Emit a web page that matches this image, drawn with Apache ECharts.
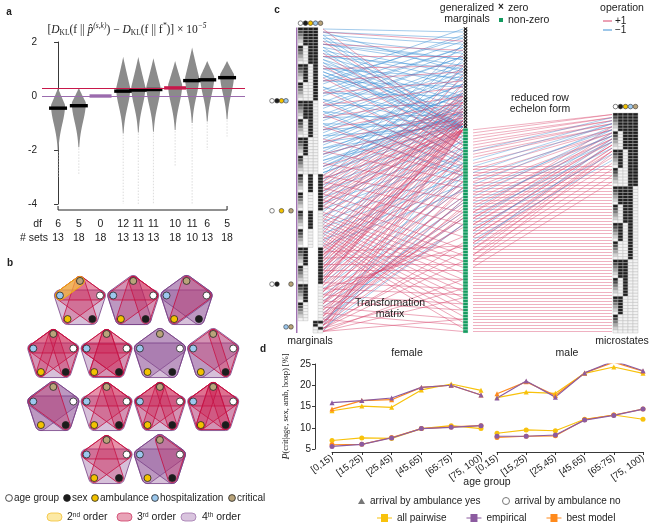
<!DOCTYPE html>
<html>
<head>
<meta charset="utf-8">
<script src="https://cdn.jsdelivr.net/npm/echarts@6/dist/echarts.min.js"></script>
<style>html,body{margin:0;padding:0;background:#fff}#main{width:651px;height:524px}</style>
</head>
<body>
<div id="main"></div>
<script>
var FONT = 'Liberation Sans, Arial, sans-serif';
var SERIF = 'Liberation Serif, DejaVu Serif, serif';

// ---------- a : KL difference per model ----------
var dfLabels = [6, 5, 0, 12, 11, 11, 10, 11, 6, 5];
var setLabels = [13, 18, 18, 13, 13, 13, 18, 10, 13, 18];
var klMedian = [-0.45, -0.36, 0, 0.18, 0.22, 0.24, 0.30, 0.57, 0.60, 0.68];
var klTop = [0.3, 0.3, 0, 1.45, 1.45, 1.4, 1.3, 1.8, 1.3, 1.3];
var klBottom = [-3.0, -2.9, 0, -4, -4, -4, -2.6, -4, -2.0, -1.5];
var klBest = 0.30, klEmpirical = 0;
var violinX = [0, 1.1, 2.25, 3.45, 4.25, 5.05, 6.2, 7.1, 7.9, 8.95]; // layout slots

// ---------- b : hypergraphs (C crit, A age, S sex, M ambulance, H hosp) ----------
var models = [
  { o4: ['ASMH'], o3: ['CAM', 'CSH', 'CAH'], o2: ['CH'] },
  { o4: ['ASMH', 'CSMH'], o3: ['CAM', 'CAS', 'CAH'], o2: [] },
  { o4: ['ASMH', 'CAMH', 'CASH'], o3: ['CAM'], o2: [] },
  { o4: ['ASMH'], o3: ['CAM', 'CSH', 'CAS', 'CMH', 'CAH'], o2: [] },
  { o4: ['ASMH'], o3: ['CAM', 'CSH', 'CAH', 'CSM', 'ASH'], o2: [] },
  { o4: ['CAMH', 'CASH', 'ASMH'], o3: [], o2: [] },
  { o4: ['ASMH', 'CAMH'], o3: ['CAS', 'CSH'], o2: [] },
  { o4: ['CAMH', 'CASH', 'ASMH'], o3: ['CSH'], o2: [] },
  { o4: ['ASMH'], o3: ['CAM', 'CSH', 'CAH', 'CAS'], o2: [] },
  { o4: ['ASMH'], o3: ['CAM', 'CSH', 'CAH', 'CAS', 'CMH'], o2: [] },
  { o4: ['ASMH'], o3: ['CAM', 'CSH', 'CAH', 'CAS', 'CMH', 'CSM'], o2: [] },
  { o4: ['ASMH'], o3: ['CAM', 'CSH', 'CAH'], o2: [] },
  { o4: ['CAMH', 'ASMH', 'CASH'], o3: ['CAS'], o2: [] }
];
var rowCounts = [3, 4, 4, 2];

// ---------- c : marginals -> generalized marginals -> microstates ----------
var ageLevels = [0, 1, 2, 3, 4, 5];
var yesNo = [1, 0];
var marginalBlocks = [
  ['hosp', 'amb', 'sex', 'age'],
  ['crit', 'amb', 'age'],
  ['crit', 'sex', 'age'],
  ['hosp', 'crit']
];
var microBlocks = [{ crit: 1, hosp: 1 }, { crit: 0, hosp: 1 }, { crit: 0, hosp: 0 }];
var zeroRows = 33, genRows = 100;
var leftLinks = [
  { sign: -1, from: [0, 1, 2, 3, 4, 5, 6, 7, 8, 9, 10, 11, 12, 13, 14, 15], to: [1, 3, 5, 8, 10, 12, 15, 17, 19, 22, 24, 26, 28, 29, 31, 32] },
  { sign: -1, from: [16, 18, 20, 22, 24, 26, 28, 30, 32, 34, 36, 38, 40, 42, 44, 46], to: [0, 2, 4, 6, 7, 9, 11, 13, 14, 16, 18, 20, 21, 23, 25, 27] },
  { sign: -1, from: [17, 21, 25, 29, 33, 37, 41, 45, 47, 43, 39, 35], to: [3, 6, 9, 12, 15, 18, 21, 24, 30, 28, 26, 22] },
  { sign: -1, from: [5, 9, 13, 17, 21, 25, 29, 33, 37, 41, 45, 1], to: [10, 13, 16, 19, 22, 25, 28, 30, 31, 29, 27, 14] },
  { sign: -1, from: [2, 6, 10, 14, 19, 23, 27, 31, 35, 39, 43, 47], to: [32, 32, 32, 32, 32, 32, 32, 32, 32, 32, 32, 32] },
  { sign: -1, from: [48, 50, 52, 54, 56, 58, 60, 62, 64, 66, 68, 70], to: [5, 8, 10, 13, 16, 18, 21, 23, 26, 28, 30, 31] },
  { sign: -1, from: [49, 51, 53, 55, 57, 59, 61, 63, 65, 67, 69, 71], to: [34, 35, 37, 39, 41, 42, 44, 46, 48, 49, 51, 53] },
  { sign: -1, from: [73, 75, 77, 79, 81, 83, 85, 87, 89, 91, 93, 95], to: [36, 39, 41, 44, 47, 50, 52, 55, 57, 60, 62, 64] },
  { sign: -1, from: [3, 7, 11, 15, 19, 23, 27, 31], to: [34, 36, 38, 40, 42, 44, 46, 48] },
  { sign: -1, from: [97, 99, 96, 98], to: [40, 48, 56, 64] },
  { sign: 1, from: [49, 53, 57, 61, 65, 69, 74, 78, 82, 86, 90, 94, 97, 99], to: [33, 33, 33, 33, 33, 33, 33, 33, 33, 33, 33, 33, 33, 33] },
  { sign: 1, from: [0, 4, 8, 12, 16, 20, 24, 28, 32, 36, 40, 44], to: [34, 35, 37, 38, 40, 42, 43, 45, 47, 48, 50, 52] },
  { sign: 1, from: [1, 5, 9, 13, 17, 21, 25, 29, 33, 37, 41, 45], to: [4, 7, 9, 12, 14, 17, 19, 22, 24, 27, 29, 31] },
  { sign: 1, from: [48, 49, 50, 51, 52, 53, 54, 55, 56, 57, 58, 59], to: [22, 23, 24, 25, 26, 27, 28, 29, 30, 30, 31, 31] },
  { sign: 1, from: [60, 61, 62, 63, 64, 65, 66, 67, 68, 69, 70, 71], to: [76, 78, 80, 82, 84, 86, 88, 90, 92, 94, 96, 98] },
  { sign: 1, from: [72, 74, 76, 78, 80, 82, 84, 86, 88, 90, 92, 94], to: [35, 37, 40, 42, 45, 47, 50, 52, 55, 57, 60, 62] },
  { sign: 1, from: [72, 73, 74, 75, 76, 77, 78, 79, 80, 81, 82, 83], to: [20, 22, 24, 26, 28, 29, 30, 31, 32, 32, 31, 30] },
  { sign: 1, from: [84, 86, 88, 90, 92, 94, 95, 93, 91, 89, 87, 85], to: [38, 41, 44, 47, 50, 53, 56, 59, 62, 65, 68, 71] },
  { sign: 1, from: [96, 96, 97, 97, 98, 98, 99, 99, 96, 97, 98, 99], to: [45, 52, 58, 64, 70, 76, 82, 88, 61, 73, 85, 95] },
  { sign: 1, from: [73, 75, 77, 79, 81, 83, 85, 87, 89, 91, 93, 95], to: [71, 74, 77, 79, 82, 85, 87, 90, 92, 95, 97, 99] },
  { sign: 1, from: [48, 50, 52, 54, 56, 58], to: [56, 60, 64, 68, 72, 74] },
  { sign: 1, from: [63, 67, 71, 75, 79, 83], to: [12, 15, 18, 21, 24, 27] }
];
var rightStraight = [45, 46, 47, 48, 49, 50, 51, 52, 53, 54, 55, 56, 57, 58, 59, 60, 61, 62, 63, 64, 65, 66, 67, 68, 69, 70, 71, 72,
  73, 74, 75, 76, 77, 78, 79, 80, 81, 82, 83, 84, 85, 86, 87, 88, 89, 90, 91, 92, 93, 94, 95, 96, 97, 98, 99];
var rightLinks = [
  { sign: 1, from: [33, 34, 35, 36, 37, 38, 39, 40, 41, 42, 44, 46, 48, 50, 52, 54, 56, 58, 60, 62, 64, 66, 68, 70, 72, 74, 76], to: [0, 0, 1, 1, 2, 2, 3, 3, 4, 4, 5, 5, 6, 6, 7, 7, 8, 8, 9, 9, 10, 10, 11, 11, 12, 12, 13] },
  { sign: -1, from: [40, 43, 47, 51, 55, 59, 63, 67, 71], to: [1, 2, 3, 4, 5, 6, 7, 8, 9] },
  { sign: 1, from: [60, 62, 64, 66, 68, 70, 72, 74, 76, 78], to: [4, 6, 8, 10, 12, 14, 16, 18, 20, 22] },
  { sign: -1, from: [45, 49, 53, 57, 61, 65, 69], to: [3, 5, 7, 9, 11, 13, 15] }
];

// ---------- d : P(crit | age, sex, amb, hosp) [%] ----------
var ageGroups = ['[0,15)', '[15,25)', '[25,45)', '[45,65)', '[65:75)', '[75, 100)'];
var femYesPairwise = [14.0, 15.1, 14.8, 18.9, 20.3, 18.8];
var femYesEmpirical = [15.9, 16.4, 17.0, 19.5, 20.0, 17.7];
var femYesBest = [14.4, 16.4, 16.6, 19.5, 20.0, 17.7];
var femNoPairwise = [7.0, 7.6, 7.5, 9.8, 10.5, 9.8];
var femNoEmpirical = [5.6, 6.1, 7.6, 9.8, 10.1, 10.5];
var femNoBest = [6.0, 6.1, 7.7, 9.8, 10.2, 10.5];
var maleYesPairwise = [17.1, 18.4, 18.1, 22.8, 24.3, 22.8];
var maleYesEmpirical = [17.0, 21.0, 17.2, 22.9, 25.7, 23.4];
var maleYesBest = [18.0, 20.8, 17.6, 22.9, 25.4, 23.3];
var maleNoPairwise = [8.7, 9.5, 9.3, 12.0, 13.0, 12.0];
var maleNoEmpirical = [8.0, 8.0, 8.3, 11.8, 12.9, 14.4];
var maleNoBest = [7.7, 8.0, 8.1, 11.9, 13.0, 14.4];

var C_YEL = '#F8C20C', C_PUR = '#8C5BA0', C_ORA = '#FF8A1C';
var C_RED = '#C8174A', C_LPUR = '#9B6BAE';
var LINE_RED = '#D8436B', LINE_BLUE = '#3C8FD4';
var nodeColor = { age: '#ffffff', sex: '#1c1c1c', amb: '#F2C200', hosp: '#9CC8EE', crit: '#B9A47A' };
var colOf = { age: 0, sex: 1, amb: 2, hosp: 3, crit: 4 };

var chart = echarts.init(document.getElementById('main'));

// ----- helpers -----
function enumerate(vars) {
  var rows = [{}];
  vars.forEach(function (v) {
    var levels = v === 'age' ? ageLevels : yesNo;
    var next = [];
    rows.forEach(function (r) {
      levels.forEach(function (l) { var o = Object.assign({}, r); o[v] = l; next.push(o); });
    });
    rows = next;
  });
  return rows;
}

function hull(pts, r) {
  var n = pts.length, out = [];
  for (var i = 0; i < n; i++) {
    var p = pts[i], prev = pts[(i - 1 + n) % n], next = pts[(i + 1) % n];
    var a1 = Math.atan2(-(p[0] - prev[0]), p[1] - prev[1]);
    var a2 = Math.atan2(-(next[0] - p[0]), next[1] - p[1]);
    if (a2 < a1) a2 += Math.PI * 2;
    for (var k = 0; k <= 5; k++) {
      var a = a1 + (a2 - a1) * k / 5;
      out.push([p[0] + r * Math.cos(a), p[1] + r * Math.sin(a)]);
    }
  }
  return out;
}

function txt(x, y, text, o) {
  o = o || {};
  return {
    type: 'text', silent: true, z: 50,
    style: {
      text: text, x: x, y: y, fill: o.color || '#222',
      font: (o.weight || 'normal') + ' ' + (o.size || 10) + 'px ' + (o.family || FONT),
      textAlign: o.align || 'center', align: o.align || 'center',
      textVerticalAlign: 'middle', verticalAlign: 'middle', rich: o.rich
    }
  };
}

// ----- c cells -----
var cellData = [];
var rowStart = 0;
var blockLabelNodes = [];
marginalBlocks.forEach(function (vars) {
  var rows = enumerate(vars);
  rows.forEach(function (r, k) {
    vars.forEach(function (v) {
      cellData.push([colOf[v], rowStart + k, v === 'age' ? r[v] : (r[v] ? 10 : 11)]);
    });
  });
  var mid = rowStart + rows.length / 2;
  vars.forEach(function (v) { blockLabelNodes.push({ v: v, row: mid }); });
  rowStart += rows.length;
});
var microRow0 = 28, microCol0 = 63;
var mRow = 0;
microBlocks.forEach(function (fixed) {
  enumerate(['amb', 'sex', 'age']).forEach(function (r) {
    var full = Object.assign({}, fixed, r);
    Object.keys(colOf).forEach(function (v) {
      cellData.push([microCol0 + colOf[v], microRow0 + mRow, v === 'age' ? full[v] : (full[v] ? 10 : 11)]);
    });
    mRow++;
  });
});
for (var g = 0; g < genRows; g++) cellData.push([33, g, g < zeroRows ? 30 : 20]);

var ageGray = ['#1c1c1c', '#4a4a4a', '#7a7a7a', '#a8a8a8', '#d2d2d2', '#f4f4f4'];

// ----- c links -----
function buildLinks(bundles, x0, x1, sign, toOffset) {
  var out = [];
  bundles.forEach(function (b) {
    if (b.sign !== sign) return;
    b.from.forEach(function (f, k) {
      out.push({ coords: [[x0, f + 0.5], [x1, b.to[k] + toOffset + 0.5]] });
    });
  });
  return out;
}
var straightData = rightStraight.map(function (m) { return { coords: [[35, m + 0.5], [62.8, m + 0.5]] }; });

// ----- c header nodes -----
var nodeVars = ['age', 'sex', 'amb', 'hosp', 'crit'];
var labelX = { age: -5.2, sex: -4.2, amb: -3.3, hosp: -2.4, crit: -1.4 };
var headerNodes = [];
nodeVars.forEach(function (v, i) {
  headerNodes.push({ value: [i + 0.5, -1.4], itemStyle: { color: nodeColor[v] } });
  headerNodes.push({ value: [microCol0 + i + 0.5, 25.9], itemStyle: { color: nodeColor[v] } });
});
blockLabelNodes.forEach(function (n) {
  headerNodes.push({ value: [labelX[n.v], n.row], itemStyle: { color: nodeColor[n.v] } });
});

// ----- b layout -----
var hyperData = [];
var mi = 0;
rowCounts.forEach(function (n, r) {
  for (var k = 0; k < n; k++) {
    hyperData.push([(5 - n) / 2 + 0.5 + k, r, mi]);
    mi++;
  }
});
var pentOrder = ['C', 'A', 'S', 'M', 'H'];
var pentColor = { C: nodeColor.crit, A: nodeColor.age, S: nodeColor.sex, M: nodeColor.amb, H: nodeColor.hosp };

// ----- d series -----
function dLine(name, data, color, symbol, gi) {
  return {
    type: 'line', name: name, data: data, xAxisIndex: gi, yAxisIndex: gi,
    symbol: symbol, symbolSize: 5, itemStyle: { color: color },
    lineStyle: { color: color, width: 1.2 }, z: 5
  };
}
var dSeries = [
  dLine('all pairwise', femYesPairwise, C_YEL, 'triangle', 3),
  dLine('best model', femYesBest, C_ORA, 'triangle', 3),
  dLine('empirical', femYesEmpirical, C_PUR, 'triangle', 3),
  dLine('all pairwise', femNoPairwise, C_YEL, 'circle', 3),
  dLine('best model', femNoBest, C_ORA, 'circle', 3),
  dLine('empirical', femNoEmpirical, C_PUR, 'circle', 3),
  dLine('all pairwise', maleYesPairwise, C_YEL, 'triangle', 4),
  dLine('best model', maleYesBest, C_ORA, 'triangle', 4),
  dLine('empirical', maleYesEmpirical, C_PUR, 'triangle', 4),
  dLine('all pairwise', maleNoPairwise, C_YEL, 'circle', 4),
  dLine('best model', maleNoBest, C_ORA, 'circle', 4),
  dLine('empirical', maleNoEmpirical, C_PUR, 'circle', 4),
  { type: 'line', name: 'arrival by ambulance yes', data: [], xAxisIndex: 3, yAxisIndex: 3, itemStyle: { color: '#777' } },
  { type: 'line', name: 'arrival by ambulance no', data: [], xAxisIndex: 3, yAxisIndex: 3, itemStyle: { color: '#777' } }
];

var axisBlack = { color: '#222', width: 0.9 };
var hidden = function (gi, min, max, inverse) {
  return { gridIndex: gi, type: 'value', min: min, max: max, inverse: !!inverse, show: false };
};

var option = {
  animation: false,
  textStyle: { fontFamily: FONT },
  grid: [
    { left: 42, top: 42, width: 203, height: 162 },
    { left: 0, top: 275.5, width: 266.5, height: 212 },
    { left: 268, top: 3, width: 372, height: 330 },
    { left: 332, top: 364, width: 149, height: 85 },
    { left: 497, top: 364, width: 146, height: 85 }
  ],
  xAxis: [
    hidden(0, -0.85, 9.9),
    hidden(1, 0, 5),
    hidden(2, -6, 68.4),
    {
      gridIndex: 3, type: 'category', data: ageGroups, boundaryGap: false, offset: 3,
      axisLine: { lineStyle: axisBlack }, axisTick: { length: 3, interval: 0, lineStyle: axisBlack },
      axisLabel: { rotate: 35, fontSize: 9.5, color: '#222', margin: 5, interval: 0 }
    },
    {
      gridIndex: 4, type: 'category', data: ageGroups, boundaryGap: false, offset: 3,
      axisLine: { lineStyle: axisBlack }, axisTick: { length: 3, interval: 0, lineStyle: axisBlack },
      axisLabel: { rotate: 35, fontSize: 9.5, color: '#222', margin: 5, interval: 0 }
    }
  ],
  yAxis: [
    {
      gridIndex: 0, type: 'value', min: -4, max: 2, interval: 2,
      axisLine: { show: true, lineStyle: axisBlack }, axisTick: { show: true, length: 4, lineStyle: axisBlack },
      axisLabel: { fontSize: 10, color: '#222', margin: 5 }, splitLine: { show: false }
    },
    hidden(1, -0.5, 3.5, true),
    hidden(2, -8, 100, true),
    {
      gridIndex: 3, type: 'value', min: 5, max: 25, interval: 5, offset: 17,
      axisLine: { show: true, lineStyle: axisBlack }, axisTick: { show: true, length: 3, lineStyle: axisBlack },
      axisLabel: { fontSize: 10, color: '#222', margin: 4 }, splitLine: { show: false },
      name: '{i|P}(crit|age, sex, amb, hosp) [%]', nameLocation: 'middle', nameGap: 24, nameRotate: 90,
      nameTextStyle: { fontFamily: SERIF, fontSize: 8.5, color: '#222', rich: { i: { fontFamily: SERIF, fontStyle: 'italic', fontSize: 10 } } }
    },
    { gridIndex: 4, type: 'value', min: 5, max: 25, show: false }
  ],
  legend: [
    {
      left: 353, top: 491, itemWidth: 7, itemHeight: 6, itemGap: 10, selectedMode: false,
      textStyle: { fontSize: 10, color: '#222' },
      data: [{ name: 'arrival by ambulance yes', icon: 'triangle', itemStyle: { color: '#777' } }]
    },
    {
      left: 497, top: 491, itemWidth: 7, itemHeight: 7, selectedMode: false,
      textStyle: { fontSize: 10, color: '#222' },
      data: [{ name: 'arrival by ambulance no', icon: 'circle', itemStyle: { color: '#fff', borderColor: '#777', borderWidth: 1 } }]
    },
    {
      left: 372, top: 508, itemWidth: 15, itemHeight: 9, itemGap: 20, selectedMode: false,
      textStyle: { fontSize: 10, color: '#222' },
      data: ['all pairwise', 'empirical', 'best model'].map(function (n) {
        return { name: n, icon: 'path://M0,4.5L4,4.5L4,1L11,1L11,4.5L15,4.5L15,5.5L11,5.5L11,9L4,9L4,5.5L0,5.5Z' };
      })
    }
  ],
  series: [
    // a: violins + medians
    {
      type: 'custom', xAxisIndex: 0, yAxisIndex: 0, z: 3,
      data: klMedian.map(function (m, i) { return [violinX[i], m, klTop[i], klBottom[i]]; }),
      renderItem: function (params, api) {
        var x = api.value(0), med = api.value(1), top = api.value(2), bot = api.value(3), i = params.dataIndex;
        var c = api.coord([x, med]);
        var children = [];
        if (top > bot) {
          var peak = Math.min(med + 0.12, top - 0.05);
          var W = 7, right = [], left = [], tailStart = bot;
          for (var y = top; y >= bot; y -= 0.04) {
            var w;
            if (y >= peak) { var t = (y - peak) / (top - peak); w = W * Math.pow(1 - t, 1.05); }
            else { var d = peak - y; w = W * Math.exp(-d * d / 1.0); }
            if (w < 0.4 && y < peak) { tailStart = y; break; }
            var py = api.coord([x, y])[1];
            right.push([c[0] + w, py]);
            left.unshift([c[0] - w, py]);
          }
          children.push({ type: 'polygon', shape: { points: right.concat(left) }, style: { fill: '#8b8b8b' } });
          if (tailStart > bot) {
            children.push({ type: 'line', shape: { x1: c[0], y1: api.coord([x, tailStart])[1], x2: c[0], y2: api.coord([x, bot])[1] },
              style: { stroke: '#cdcdcd', lineWidth: 0.7, lineDash: [1.5, 1.5] } });
          }
        }
        var col = i === 2 ? C_LPUR : (i === 6 ? C_RED : '#000');
        var half = (i === 2 || i === 6) ? 11 : 9;
        children.push({ type: 'rect', shape: { x: c[0] - half, y: c[1] - 1.7, width: 2 * half, height: 3.4 }, style: { fill: col } });
        return { type: 'group', children: children };
      },
      markLine: {
        silent: true, symbol: 'none', label: { show: false },
        data: [
          { yAxis: klBest, lineStyle: { color: C_RED, width: 1.2, type: 'solid' } },
          { yAxis: klEmpirical, lineStyle: { color: C_LPUR, width: 1.2, type: 'solid' } }
        ]
      }
    },
    // a: bracket axis
    {
      type: 'custom', xAxisIndex: 0, yAxisIndex: 0, silent: true,
      data: [[violinX[0], violinX[violinX.length - 1]]],
      renderItem: function (params, api) {
        var p0 = api.coord([api.value(0), -4]), p1 = api.coord([api.value(1), -4]);
        var y = p0[1] + 6;
        return { type: 'polyline', shape: { points: [[p0[0], y - 4], [p0[0], y], [p1[0], y], [p1[0], y - 4]] },
          style: { stroke: '#222', lineWidth: 1, fill: null } };
      }
    },
    // a: df / # sets rows
    {
      type: 'custom', xAxisIndex: 0, yAxisIndex: 0, silent: true,
      data: violinX.map(function (x, i) { return [x, dfLabels[i], setLabels[i]]; }),
      renderItem: function (params, api) {
        var p = api.coord([api.value(0), -4]);
        var st = function (t, y) {
          return { type: 'text', style: { text: String(t), x: p[0], y: y, textAlign: 'center', align: 'center',
            textVerticalAlign: 'middle', verticalAlign: 'middle', font: '10.5px ' + FONT, fill: '#222' } };
        };
        return { type: 'group', children: [st(api.value(1), p[1] + 20), st(api.value(2), p[1] + 34)] };
      }
    },
    // b: hypergraphs
    {
      type: 'custom', xAxisIndex: 1, yAxisIndex: 1, silent: true,
      data: hyperData,
      renderItem: function (params, api) {
        var c = api.coord([api.value(0), api.value(1)]);
        var R = api.size([1, 1])[0] * 0.395;
        var m = models[api.value(2)];
        var pos = {};
        pentOrder.forEach(function (k, i) {
          var a = (-90 + 72 * i) * Math.PI / 180;
          pos[k] = [c[0] + R * Math.cos(a), c[1] + R * Math.sin(a)];
        });
        var pts = function (e) {
          return e.split('').sort(function (a, b) { return pentOrder.indexOf(a) - pentOrder.indexOf(b); })
            .map(function (k) { return pos[k]; });
        };
        var children = [];
        m.o4.forEach(function (e) {
          children.push({ type: 'polygon', shape: { points: hull(pts(e), 5.5) },
            style: { fill: 'rgba(140,80,150,0.36)', stroke: 'rgba(120,65,135,0.9)', lineWidth: 0.9 } });
        });
        m.o3.forEach(function (e) {
          children.push({ type: 'polygon', shape: { points: hull(pts(e), 4.5) },
            style: { fill: 'rgba(205,30,80,0.28)', stroke: 'rgba(195,15,65,0.9)', lineWidth: 0.9 } });
        });
        m.o2.forEach(function (e) {
          children.push({ type: 'polygon', shape: { points: hull(pts(e), 4.5) },
            style: { fill: 'rgba(250,205,50,0.6)', stroke: '#F0B400', lineWidth: 0.9 } });
        });
        pentOrder.forEach(function (k) {
          children.push({ type: 'circle', shape: { cx: pos[k][0], cy: pos[k][1], r: 3.5 },
            style: { fill: pentColor[k], stroke: '#222', lineWidth: 0.8 } });
        });
        return { type: 'group', children: children };
      }
    },
    // c: lines
    {
      type: 'lines', coordinateSystem: 'cartesian2d', xAxisIndex: 2, yAxisIndex: 2, silent: true, z: 2,
      data: buildLinks(leftLinks, 5, 33, -1, 0), lineStyle: { color: LINE_BLUE, width: 0.6, opacity: 0.8 }
    },
    {
      type: 'lines', coordinateSystem: 'cartesian2d', xAxisIndex: 2, yAxisIndex: 2, silent: true, z: 2,
      data: buildLinks(leftLinks, 5, 33, 1, 0), lineStyle: { color: LINE_RED, width: 0.6, opacity: 0.8 }
    },
    {
      type: 'lines', coordinateSystem: 'cartesian2d', xAxisIndex: 2, yAxisIndex: 2, silent: true, z: 2,
      data: straightData.concat(buildLinks(rightLinks, 35, 62.8, 1, microRow0)), lineStyle: { color: LINE_RED, width: 0.6, opacity: 0.7 }
    },
    {
      type: 'lines', coordinateSystem: 'cartesian2d', xAxisIndex: 2, yAxisIndex: 2, silent: true, z: 2,
      data: buildLinks(rightLinks, 35, 62.8, -1, microRow0), lineStyle: { color: LINE_BLUE, width: 0.6, opacity: 0.7 }
    },
    // c: matrix cells
    {
      type: 'custom', xAxisIndex: 2, yAxisIndex: 2, silent: true, z: 4,
      data: cellData,
      renderItem: function (params, api) {
        var col = api.value(0), row = api.value(1), code = api.value(2);
        var p0 = api.coord([col, row]), p1 = api.coord([col + 1, row + 1]);
        var w = p1[0] - p0[0], h = p1[1] - p0[1];
        if (code === 30) {
          return { type: 'group', children: [
            { type: 'line', shape: { x1: p0[0] + 0.8, y1: p0[1], x2: p1[0] - 0.8, y2: p1[1] }, style: { stroke: '#111', lineWidth: 1.1 } },
            { type: 'line', shape: { x1: p1[0] - 0.8, y1: p0[1], x2: p0[0] + 0.8, y2: p1[1] }, style: { stroke: '#111', lineWidth: 1.1 } }
          ] };
        }
        var fill, stroke = '#b5b5b5';
        if (code === 20) { fill = '#139A5F'; stroke = '#cfeede'; }
        else if (code === 10) fill = '#1f1f1f';
        else if (code === 11) fill = '#f3f3f3';
        else fill = ageGray[code];
        return { type: 'rect', shape: { x: p0[0], y: p0[1], width: w, height: h }, style: { fill: fill, stroke: stroke, lineWidth: 0.4 } };
      }
    },
    // c: marginals bracket
    {
      type: 'custom', xAxisIndex: 2, yAxisIndex: 2, silent: true,
      data: [[-0.25, 0, genRows]],
      renderItem: function (params, api) {
        var a = api.coord([api.value(0), api.value(1)]), b = api.coord([api.value(0), api.value(2)]);
        return { type: 'line', shape: { x1: a[0], y1: a[1], x2: b[0], y2: b[1] }, style: { stroke: C_LPUR, lineWidth: 1.4 } };
      }
    },
    // c: variable nodes
    {
      type: 'scatter', xAxisIndex: 2, yAxisIndex: 2, silent: true, z: 6,
      symbolSize: 4.6, data: headerNodes,
      itemStyle: { borderColor: '#333', borderWidth: 0.6, opacity: 1 }
    }
  ].concat(dSeries),
  graphic: [
    txt(9, 12, 'a', { weight: 'bold', size: 10 }),
    txt(10, 263, 'b', { weight: 'bold', size: 10 }),
    txt(277, 10, 'c', { weight: 'bold', size: 10 }),
    txt(263, 349, 'd', { weight: 'bold', size: 10 }),
    // a title
    txt(127, 30, '[{i|D}{sub|KL}(f || {i|p̂}{sup|(s,k)}) − {i|D}{sub|KL}(f || f{sup|*})] × 10{sup|−5}', {
      family: SERIF, size: 11.5,
      rich: {
        i: { fontStyle: 'italic', fontFamily: SERIF, fontSize: 11.5, lineHeight: 15 },
        sub: { fontFamily: SERIF, fontSize: 7.5, verticalAlign: 'bottom', lineHeight: 9 },
        sup: { fontFamily: SERIF, fontStyle: 'italic', fontSize: 7.5, verticalAlign: 'top', lineHeight: 9 }
      }
    }),
    txt(42, 224, 'df', { align: 'right', size: 10.5 }),
    txt(48, 238, '# sets', { align: 'right', size: 10.5 }),
    // b legend
    { type: 'circle', shape: { cx: 9, cy: 498, r: 3.4 }, style: { fill: nodeColor.age, stroke: '#222', lineWidth: 0.8 } },
    txt(14, 498, 'age group', { align: 'left' }),
    { type: 'circle', shape: { cx: 67, cy: 498, r: 3.4 }, style: { fill: nodeColor.sex, stroke: '#222', lineWidth: 0.8 } },
    txt(72, 498, 'sex', { align: 'left' }),
    { type: 'circle', shape: { cx: 95, cy: 498, r: 3.4 }, style: { fill: nodeColor.amb, stroke: '#222', lineWidth: 0.8 } },
    txt(100, 498, 'ambulance', { align: 'left' }),
    { type: 'circle', shape: { cx: 155, cy: 498, r: 3.4 }, style: { fill: nodeColor.hosp, stroke: '#222', lineWidth: 0.8 } },
    txt(160, 498, 'hospitalization', { align: 'left' }),
    { type: 'circle', shape: { cx: 232, cy: 498, r: 3.4 }, style: { fill: nodeColor.crit, stroke: '#222', lineWidth: 0.8 } },
    txt(237, 498, 'critical', { align: 'left' }),
    { type: 'rect', shape: { x: 47, y: 513, width: 15, height: 8, r: 4 }, style: { fill: '#FCE9A5', stroke: '#F2C23A', lineWidth: 0.8 } },
    txt(67, 517, '2{s|nd} order', { align: 'left', size: 10.5, rich: { s: { fontSize: 6.5, verticalAlign: 'top', lineHeight: 7 } } }),
    { type: 'rect', shape: { x: 117, y: 513, width: 15, height: 8, r: 4 }, style: { fill: '#E8A3B7', stroke: '#D0406A', lineWidth: 0.8 } },
    txt(137, 517, '3{s|rd} order', { align: 'left', size: 10.5, rich: { s: { fontSize: 6.5, verticalAlign: 'top', lineHeight: 7 } } }),
    { type: 'rect', shape: { x: 181, y: 513, width: 15, height: 8, r: 4 }, style: { fill: '#D9C4DE', stroke: '#A27AAE', lineWidth: 0.8 } },
    txt(202, 517, '4{s|th} order', { align: 'left', size: 10.5, rich: { s: { fontSize: 6.5, verticalAlign: 'top', lineHeight: 7 } } }),
    // c labels
    txt(467, 8, 'generalized', { size: 10.5 }),
    txt(467, 19, 'marginals', { size: 10.5 }),
    txt(501, 7, '×', { size: 10, weight: 'bold' }),
    txt(508, 8, 'zero', { align: 'left', size: 10.5 }),
    { type: 'rect', shape: { x: 499, y: 18, width: 4, height: 4 }, style: { fill: '#139A5F' } },
    txt(508, 20, 'non-zero', { align: 'left', size: 10.5 }),
    txt(622, 8, 'operation', { size: 10.5 }),
    { type: 'line', shape: { x1: 603, y1: 21, x2: 612, y2: 21 }, style: { stroke: LINE_RED, lineWidth: 1 } },
    txt(615, 21, '+1', { align: 'left' }),
    { type: 'line', shape: { x1: 603, y1: 30, x2: 612, y2: 30 }, style: { stroke: LINE_BLUE, lineWidth: 1 } },
    txt(615, 30, '−1', { align: 'left' }),
    txt(540, 98, 'reduced row', { size: 10.5 }),
    txt(540, 109, 'echelon form', { size: 10.5 }),
    txt(390, 303, 'Transformation', { size: 10.5 }),
    txt(390, 314, 'matrix', { size: 10.5 }),
    txt(310, 341, 'marginals', { size: 10.5 }),
    txt(622, 341, 'microstates', { size: 10.5 }),
    // d labels
    txt(407, 353, 'female', { size: 10.5 }),
    txt(567, 353, 'male', { size: 10.5 }),
    txt(487, 482, 'age group', { size: 10.5 })
  ]
};

chart.setOption(option);
</script>
</body>
</html>
